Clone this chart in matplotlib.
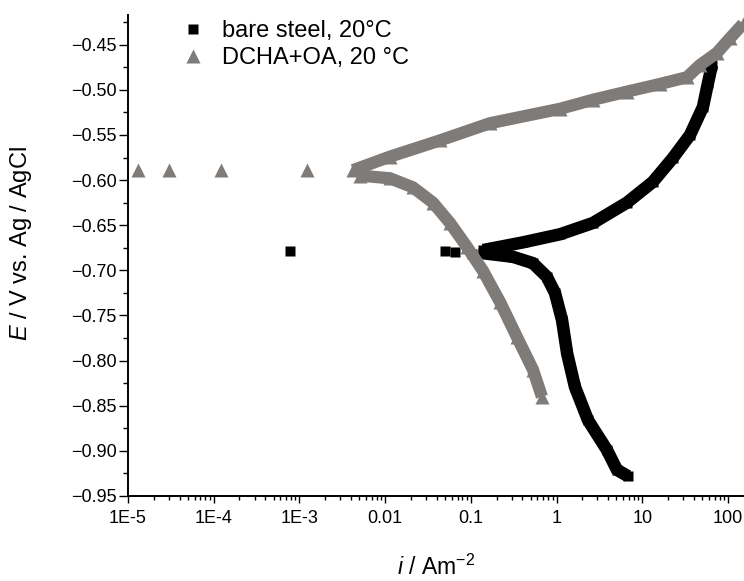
import matplotlib
matplotlib.use("Agg")
import matplotlib.pyplot as plt
from matplotlib.lines import Line2D
from matplotlib.ticker import FixedLocator, FixedFormatter, LogLocator, NullFormatter, MultipleLocator

plt.rcParams['font.family'] = ['Liberation Sans', 'DejaVu Sans']
plt.rcParams['mathtext.fontset'] = 'custom'
plt.rcParams['mathtext.rm'] = 'Liberation Sans'
plt.rcParams['mathtext.it'] = 'Liberation Sans:italic'

# ---- data: bare steel, 20 °C (black squares) ----
steel_cath_i = [6.82, 5.07, 3.88, 2.33, 1.64, 1.33, 1.16, 0.96, 0.77, 0.53, 0.31, 0.139]
steel_cath_E = [-0.928, -0.921, -0.899, -0.866, -0.829, -0.792, -0.755, -0.725, -0.707, -0.692, -0.685, -0.681]
steel_corr_i = [7.76e-4, 0.050, 0.065, 0.103]
steel_corr_E = [-0.679, -0.679, -0.680, -0.682]
steel_anod_i = [0.139, 0.406, 1.10, 2.66, 6.63, 13.3, 22.8, 36.1, 51.1, 58.5, 65.1]
steel_anod_E = [-0.6775, -0.669, -0.660, -0.6475, -0.625, -0.602, -0.5755, -0.550, -0.519, -0.4925, -0.4725]

# ---- data: DCHA+OA, 20 °C (grey triangles) ----
dcha_cath_i = [0.676, 0.531, 0.346, 0.219, 0.139, 0.0902, 0.0572, 0.0362, 0.0211, 0.0114, 0.00509]
dcha_cath_E = [-0.840, -0.810, -0.774, -0.735, -0.7007, -0.674, -0.6475, -0.625, -0.608, -0.598, -0.595]
dcha_corr_i = [1.22e-3, 1.22e-4, 3.01e-5, 1.32e-5]
dcha_corr_E = [-0.589, -0.589, -0.589, -0.589]
dcha_anod_i = [0.00422, 0.0114, 0.0437, 0.167, 1.10, 2.66, 6.63, 16.1, 33.3, 47.2, 74.5, 106, 150]
dcha_anod_E = [-0.589, -0.574, -0.556, -0.537, -0.521, -0.511, -0.502, -0.4935, -0.486, -0.4725, -0.459, -0.4426, -0.427]

labels = ['bare steel, 20\u00b0C', 'DCHA+OA, 20 \u00b0C']
xtick_vals = [1e-5, 1e-4, 1e-3, 1e-2, 1e-1, 1, 10, 100]
xtick_labels = ['1E-5', '1E-4', '1E-3', '0.01', '0.1', '1', '10', '100']
ytick_vals = [-0.95, -0.90, -0.85, -0.80, -0.75, -0.70, -0.65, -0.60, -0.55, -0.50, -0.45]
ytick_labels = ['\u22120.95', '\u22120.90', '\u22120.85', '\u22120.80', '\u22120.75', '\u22120.70',
                '\u22120.65', '\u22120.60', '\u22120.55', '\u22120.50', '\u22120.45']

BLACK = '#000000'
GREY = '#7f7b78'

fig = plt.figure(figsize=(7.44, 5.81), dpi=100)
ax = fig.add_axes([0.172, 0.1463, 0.828, 0.828])

sq = 7.8
tri = 9.4
lw_b = 9.0
lw_g = 8.8

# black series
for xi, yi in [(steel_cath_i, steel_cath_E), (steel_anod_i, steel_anod_E)]:
    ax.plot(xi, yi, '-', color=BLACK, lw=lw_b, solid_joinstyle='round', solid_capstyle='butt', zorder=2)
    ax.plot(xi, yi, 's', color=BLACK, ms=sq, mec='none', zorder=2)
ax.plot(steel_corr_i, steel_corr_E, 's', color=BLACK, ms=sq, mec='none', zorder=2)

# grey series
for xi, yi in [(dcha_cath_i, dcha_cath_E), (dcha_anod_i, dcha_anod_E)]:
    ax.plot(xi, yi, '-', color=GREY, lw=lw_g, solid_joinstyle='round', solid_capstyle='butt', zorder=3)
    ax.plot(xi, yi, '^', color=GREY, ms=tri, mec='none', zorder=3)
ax.plot(dcha_corr_i, dcha_corr_E, '^', color=GREY, ms=tri, mec='none', zorder=3)

ax.set_xscale('log')
ax.set_xlim(1e-5, 154)
ax.set_ylim(-0.95, -0.417)

ax.xaxis.set_major_locator(FixedLocator(xtick_vals))
ax.xaxis.set_major_formatter(FixedFormatter(xtick_labels))
ax.xaxis.set_minor_locator(LogLocator(base=10, subs=[2, 3, 4, 5, 6, 7, 8, 9], numticks=20))
ax.xaxis.set_minor_formatter(NullFormatter())
ax.yaxis.set_major_locator(FixedLocator(ytick_vals))
ax.yaxis.set_major_formatter(FixedFormatter(ytick_labels))
ax.yaxis.set_minor_locator(MultipleLocator(0.025))

for s in ['top', 'right']:
    ax.spines[s].set_visible(False)
for s in ['left', 'bottom']:
    ax.spines[s].set_linewidth(1.4)

ax.tick_params(axis='x', which='major', direction='out', length=5, width=1.0, labelsize=13, pad=5)
ax.tick_params(axis='x', which='minor', direction='out', length=3, width=1.0)
ax.tick_params(axis='y', which='major', direction='out', length=6.5, width=1.0, labelsize=13, pad=1.5)
ax.tick_params(axis='y', which='minor', direction='out', length=3.5, width=1.0)

ax.set_xlabel(r'$\mathit{i}$ / Am$^{\mathregular{-2}}$', fontsize=16.5)
ax.set_ylabel(r'$\mathit{E}$ / V vs. Ag / AgCl', fontsize=17)
ax.xaxis.set_label_coords(0.5, -0.122)
ax.yaxis.set_label_coords(-0.153, 0.525)

handles = [Line2D([], [], marker='s', ls='none', color=BLACK, ms=sq, mec='none'),
           Line2D([], [], marker='^', ls='none', color=GREY, ms=tri, mec='none')]
fig.legend(handles, labels, loc='upper left', bbox_to_anchor=(181 / 744, (581 - 20) / 581),
           frameon=False, fontsize=17, borderpad=0, borderaxespad=0, handlelength=1.0,
           handletextpad=0.72, labelspacing=0.22)

fig.savefig('out.png', dpi=100)
